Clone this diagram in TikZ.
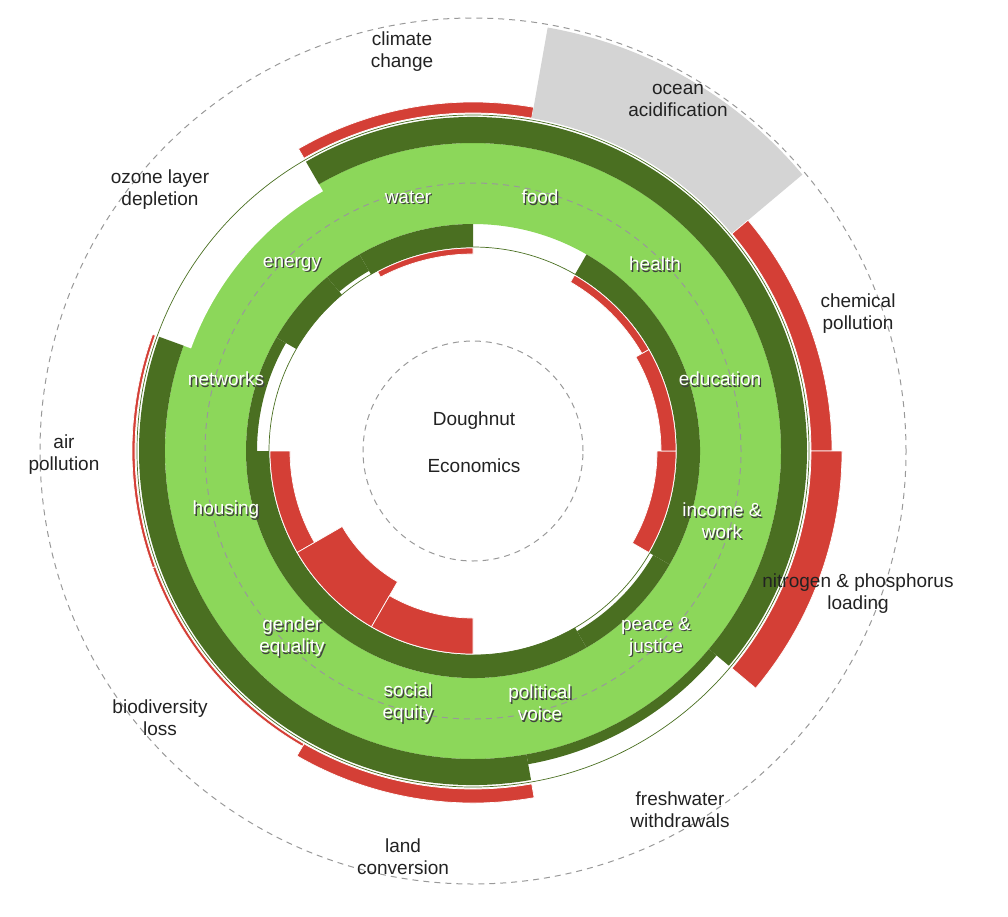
\documentclass[tikz,border=0pt]{standalone}
\usepackage{fontspec}
\setmainfont{Liberation Sans}
\begin{document}
\definecolor{lg}{HTML}{8CD75A}
\definecolor{dg}{HTML}{4A6F21}
\definecolor{rd}{HTML}{D43F36}
\definecolor{gy}{HTML}{D4D4D4}
\definecolor{tx}{HTML}{222222}
\newcommand\annsec[5]{\fill[#1] (#2:#4) arc[start angle=#2,end angle=#3,radius=#4] -- (#3:#5) arc[start angle=#3,end angle=#2,radius=#5] -- cycle;}
\begin{tikzpicture}[x=1pt,y=1pt,
  eco/.style={text=tx,font=\fontsize{19}{22}\selectfont,align=center},
  soc/.style={text=white,font=\fontsize{19}{22}\selectfont,align=center},
  socsh/.style={text=black!75,font=\fontsize{19}{22}\selectfont,align=center},
  dashc/.style={draw=black!40,line width=1,dash pattern=on 6pt off 5pt},
  redw/.style={fill=rd,draw=white,line width=0.7},
  ring/.style={draw=dg,line width=0.7}]
\useasboundingbox (0,0) rectangle (1008,-916);
\begin{scope}[shift={(473,-451)}]
% light green band
\annsec{lg}{0}{360}{227}{308}
\annsec{white}{120}{160}{300}{309}
% outer dark band
\annsec{dg}{-40}{120}{308}{334}
\annsec{dg}{160}{280}{308}{334}
\annsec{dg}{-80}{-40}{308}{318}
% inner dark band (social)
\annsec{dg}{90}{120}{204}{227}
\annsec{dg}{130}{150}{204}{227}
\annsec{dg}{120}{130}{208}{227}
\annsec{dg}{150}{180}{216}{227}
\annsec{dg}{180}{300}{204}{227}
\annsec{dg}{300}{330}{208}{227}
\annsec{dg}{330}{420}{204}{227}
% thin boundary circles
\draw[ring] (0,0) circle[radius=204];
\draw[ring] (0,0) circle[radius=336];
% social shortfalls
\annsec{redw}{90}{118}{197}{203}
\annsec{redw}{180}{210}{183}{203}
\annsec{redw}{210}{240}{151}{203}
\annsec{redw}{240}{270}{167}{203}
\annsec{redw}{330}{360}{184}{203}
\annsec{redw}{0}{30}{188}{203}
\annsec{redw}{30}{60}{195}{203}
% ecological overshoots
\annsec{redw}{80}{120}{338}{349}
\annsec{gy}{40}{80}{338}{430}
\annsec{redw}{0}{40}{338}{359}
\annsec{redw}{-40}{0}{338}{369}
\annsec{redw}{-120}{-80}{338}{352}
\annsec{redw}{-160}{-120}{338}{341}
\annsec{redw}{160}{200}{338}{341}
% dashed circles
\draw[dashc] (0,0) circle[radius=110];
\draw[dashc] (0,0) circle[radius=268];
\draw[dashc] (0,0) circle[radius=433];
\end{scope}
% centre
\node[eco] (d1) at (474,-421) {Doughnut};
\node[eco] (d2) at (474,-466) {Economics};
% social labels
\foreach \n/\x/\y/\t in {s1/408/197/water, s2/540/197/food, s3/655/264/health, s4/720/379/education, s5/722/521/{income \&\\work}, s6/656/637/{peace \&\\justice}, s7/540/703/{political\\voice}, s8/408/703/{social\\equity}, s9/292/637/{gender\\equality}, s10/226/510/housing, s11/226/379/networks, s12/292/264/energy}{
  \node[socsh] (\n sh) at (\x+1.3,-\y-1.3) {\t};
  \node[soc] (\n) at (\x,-\y) {\t};
}
% ecological labels
\node[eco] (e1) at (402,-52) {climate\\change};
\node[eco] (e2) at (678,-100) {ocean\\acidification};
\node[eco] (e3) at (858,-314) {chemical\\pollution};
\node[eco] (e4) at (858,-594) {nitrogen \& phosphorus\\loading};
\node[eco] (e5) at (680,-810) {freshwater\\withdrawals};
\node[eco] (e6) at (403,-857) {land\\conversion};
\node[eco] (e7) at (160,-718) {biodiversity\\loss};
\node[eco] (e8) at (64,-455) {air\\pollution};
\node[eco] (e9) at (160,-190) {ozone layer\\depletion};
\end{tikzpicture}
\end{document}
